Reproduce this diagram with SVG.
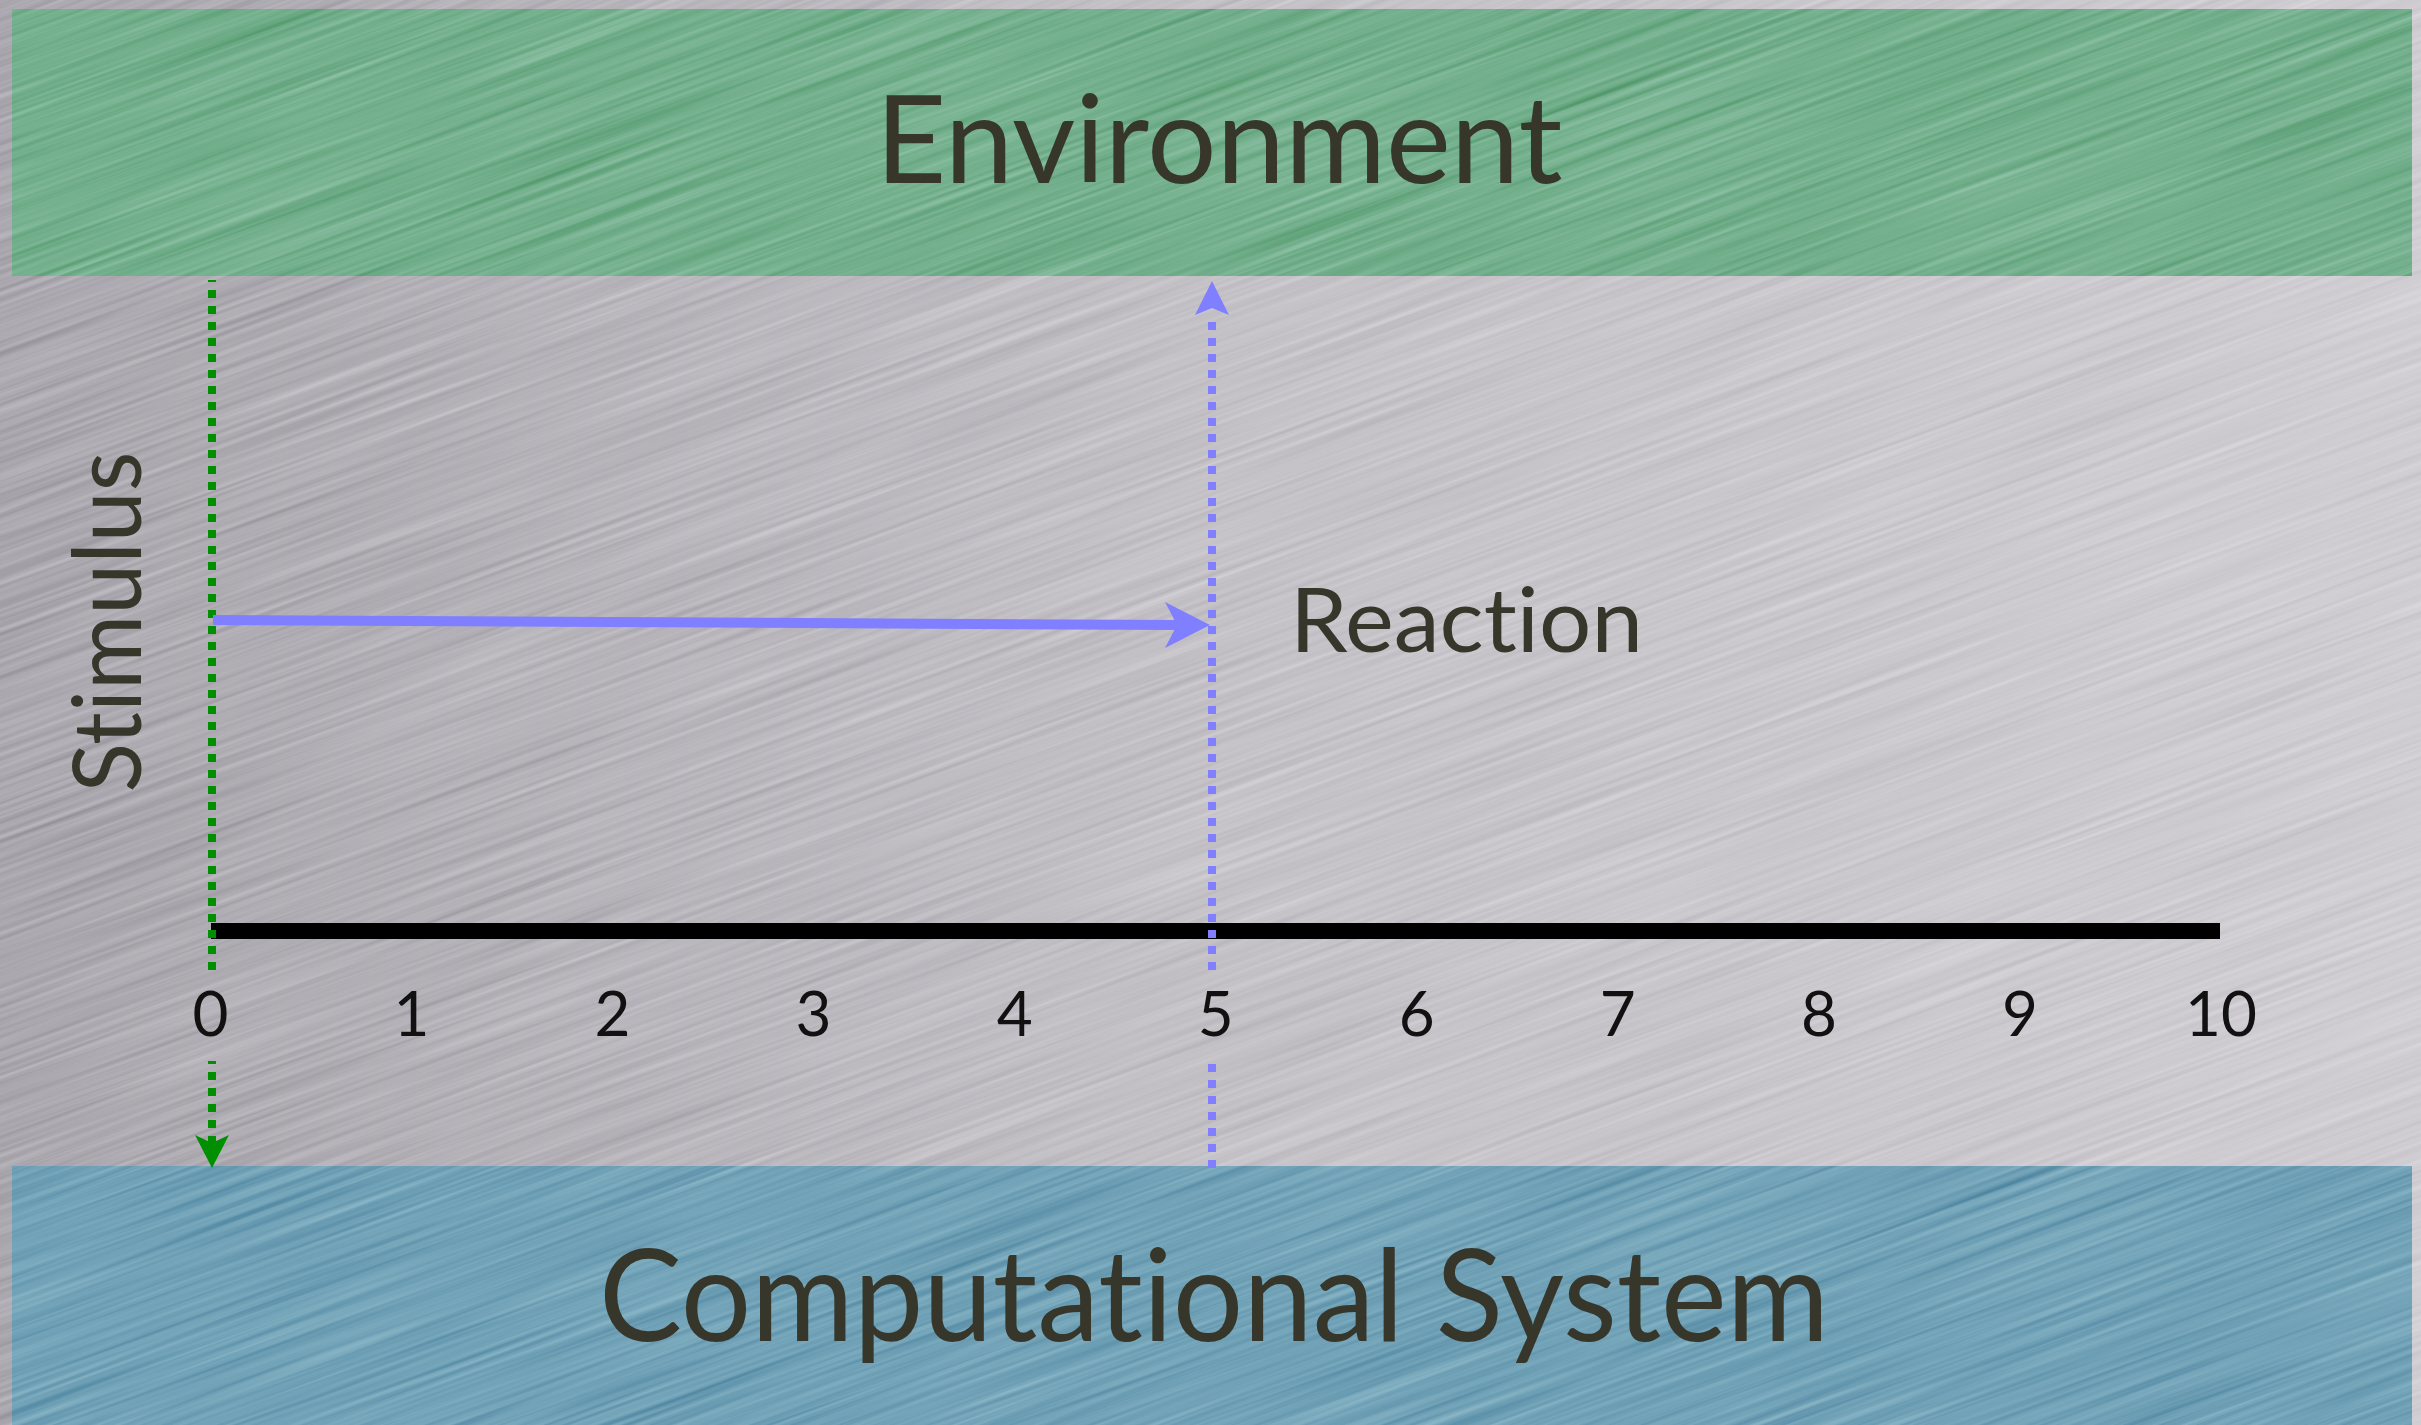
<svg xmlns="http://www.w3.org/2000/svg" width="2421" height="1425" viewBox="0 0 2421 1425">
  <style>
    .lbl { font-family: Lato, "Open Sans", "Liberation Sans", sans-serif; fill: #36372a; font-variant-ligatures: none; font-feature-settings: "liga" 0, "clig" 0; }
    .num { font-family: Lato, "Open Sans", "Liberation Sans", sans-serif; font-size: 62px; fill: #111111; text-anchor: middle; }
    .gdash { stroke: #008f00; stroke-width: 8; fill: none; stroke-dasharray: 8 8; }
    .bdash { stroke: #7f7fff; stroke-width: 8; fill: none; stroke-dasharray: 8 8; }
    .tex { mix-blend-mode: overlay; }
  </style>
  <defs>
    <linearGradient id="metal" gradientUnits="userSpaceOnUse" x1="0" y1="0" x2="2421" y2="0">
      <stop offset="0" stop-color="#aaa7ae"/>
      <stop offset="0.5" stop-color="#c4c2c7"/>
      <stop offset="1" stop-color="#d0ced3"/>
    </linearGradient>
    <filter id="brush" x="0" y="0" width="1" height="1" color-interpolation-filters="sRGB">
      <feTurbulence type="fractalNoise" baseFrequency="0.003 0.22" numOctaves="3" seed="7" result="n"/>
      <feColorMatrix in="n" type="matrix" values="0.33 0.33 0.34 0 0  0.33 0.33 0.34 0 0  0.33 0.33 0.34 0 0  0 0 0 0 1" result="g"/>
      <feComponentTransfer in="g">
        <feFuncR type="linear" slope="0.5" intercept="0.25"/>
        <feFuncG type="linear" slope="0.5" intercept="0.25"/>
        <feFuncB type="linear" slope="0.5" intercept="0.25"/>
      </feComponentTransfer>
    </filter>
  </defs>

  <g id="background">
    <rect x="0" y="0" width="2421" height="1425" fill="url(#metal)"/>
  </g>

  <g id="environment">
    <rect x="12" y="9" width="2400" height="267" fill="#74b08d"/>
  </g>

  <g id="computational-system">
    <rect x="12" y="1166" width="2400" height="259" fill="#71a2b7"/>
  </g>

  <g id="texture" class="tex" transform="rotate(-20 1210 712)">
    <rect x="-500" y="-700" width="3421" height="2825" fill="#808080" filter="url(#brush)"/>
  </g>

  <g id="environment-label">
    <text class="lbl" x="1219" y="183" font-size="122" text-anchor="middle" textLength="687" lengthAdjust="spacingAndGlyphs">Environment</text>
  </g>

  <g id="computational-system-label">
    <text class="lbl" x="1214" y="1341" font-size="128" text-anchor="middle" textLength="1230" lengthAdjust="spacingAndGlyphs">Computational System</text>
  </g>

  <g id="timeline">
    <line x1="211" y1="931" x2="2220" y2="931" stroke="#000" stroke-width="16"/>
    <text class="num" x="210.5" y="1036">0</text>
    <text class="num" x="411.5" y="1036">1</text>
    <text class="num" x="612.6" y="1036">2</text>
    <text class="num" x="813.6" y="1036">3</text>
    <text class="num" x="1014.7" y="1036">4</text>
    <text class="num" x="1215.7" y="1036">5</text>
    <text class="num" x="1416.8" y="1036">6</text>
    <text class="num" x="1617.8" y="1036">7</text>
    <text class="num" x="1818.9" y="1036">8</text>
    <text class="num" x="2019.9" y="1036">9</text>
    <text class="num" x="2221" y="1036">10</text>
  </g>

  <g id="stimulus-label">
    <text class="lbl" transform="translate(141 622) rotate(-90)" x="0" y="0" font-size="95" text-anchor="middle" textLength="341" lengthAdjust="spacingAndGlyphs">Stimulus</text>
  </g>

  <g id="reaction-label">
    <text class="lbl" x="1290" y="652" font-size="90" textLength="353" lengthAdjust="spacingAndGlyphs">Reaction</text>
  </g>

  <g id="connectors">
    <line class="gdash" x1="212" y1="280" x2="212" y2="970" stroke-dashoffset="6"/>
    <line class="gdash" x1="212" y1="1061" x2="212" y2="1144" stroke-dashoffset="5"/>
    <polygon points="212,1168 195,1135 212,1143 229,1135" fill="#008f00"/>

    <line class="bdash" x1="1212" y1="322" x2="1212" y2="970"/>
    <line class="bdash" x1="1212" y1="1064" x2="1212" y2="1168"/>
    <polygon points="1212,281 1229,315 1212,308 1195,315" fill="#7f7fff"/>

    <line x1="213" y1="620" x2="1178" y2="625" stroke="#7f7fff" stroke-width="10"/>
    <polygon points="1210,625 1165,602 1177,625 1165,648" fill="#7f7fff"/>
  </g>
</svg>
